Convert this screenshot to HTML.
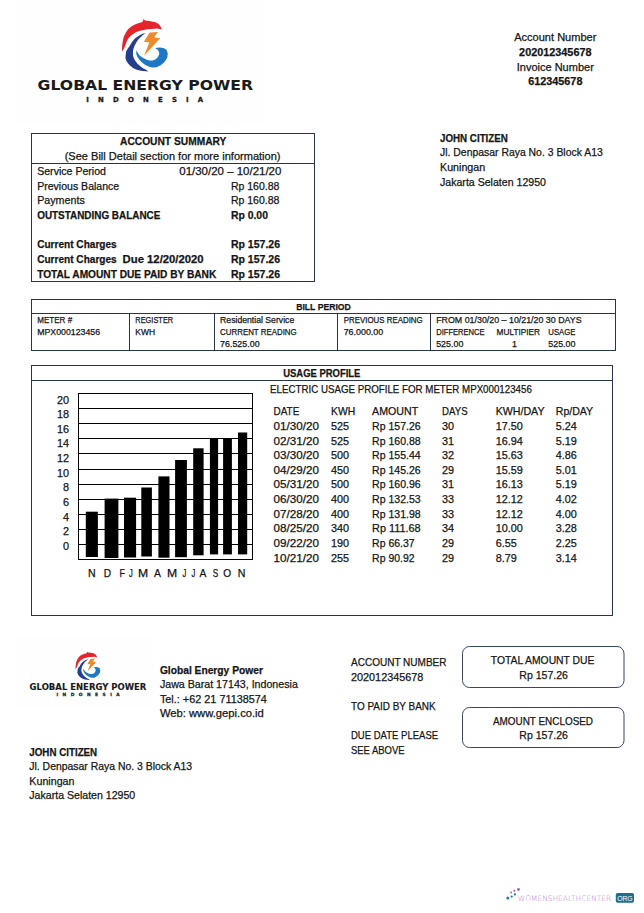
<!DOCTYPE html>
<html><head><meta charset="utf-8"><title>Global Energy Power - Bill</title>
<style>
html,body{margin:0;padding:0;background:#fff;}
svg{display:block;}
</style></head>
<body>
<svg width="644" height="913" viewBox="0 0 644 913" font-family="'Liberation Sans', Arial, sans-serif">
<rect width="644" height="913" fill="#fff"/>
<!-- logo backgrounds -->
<rect x="13" y="0" width="252" height="124" fill="#fefefe"/>
<rect x="16" y="637" width="138" height="70" fill="#fefefe"/>
<g>
<path fill="#e4262c" d="M122.2 51.5 L122 48 L122.3 44.5 L123 40 L124 36.3 L126 32.3 L128.3 28.9 L131.3 26.4 L134.9 24.5 L139 23.1 L142.6 22.1 L143.2 19.3 L145.2 20.5 L146.6 20.8 L149.6 21.1 L155.2 22.2 L158 23.6 L159.7 25.2 L161.9 28.9 L160.8 29.3 L157 28.6 L151.5 28.9 L147.5 29.2 L143.6 29.9 L140 30.7 L137 31.7 L134.5 33 L132.5 34.4 L130.3 36.3 L128.3 38.6 L126.7 41.5 L125.5 45 L124 48.5 Z"/>
<path fill="#263f8c" d="M145.5 32.9 L142 34 L139.2 35.4 L134.9 38.4 L132 42 L129.7 46 L127.6 48.8 L126.1 51.6 L125.4 57.7 L126.3 60.8 L127.9 63.3 L130.2 65.8 L133 68 L136.2 69.6 L139.6 70.5 L143 71.1 L146.1 71.3 L148.4 71.4 L146.1 69.8 L143 68.3 L140 66.1 L137.5 63.7 L135.4 61 L133.8 58.3 L133 55.4 L132.9 52.3 L133.3 49.3 L134.6 45.8 L136.4 42.2 L138.5 39.2 L140.5 37.2 L142.6 35.3 Z"/>
<path fill="#1e78c6" d="M136.3 50.2 L136.3 54 L137.6 57.2 L139.6 60 L141.8 62.3 L144.2 64.2 L146.9 65.7 L149.8 67 L153 67.6 L156.5 67.3 L160.7 65.2 L164.5 62 L167.2 57.8 L167.8 53.5 L166.5 49.8 L163.5 47.9 L159.8 47.5 L155.2 48.1 L157.5 49.5 L159.1 52 L159.2 54.3 L158 57 L155.7 59.3 L152.7 60.5 L149.8 60.6 L146.8 59.8 L144.2 58.6 L141.7 57.1 L139.6 55.4 L137.8 53 Z"/>
<path fill="#ef8a2b" d="M149.7 32.6 L158 32 L154.1 37.2 L160.2 38.3 L144 55.8 L149.4 42.6 L143.9 41.8 Z"/>
<text x="37.6" y="90.3" font-family="DejaVu Sans, sans-serif" font-weight="bold" font-size="14.9" textLength="215.5" lengthAdjust="spacingAndGlyphs" fill="#1a1a1a" stroke="#1a1a1a" stroke-width="0">GLOBAL ENERGY POWER</text>
<text x="86.2" y="102.1" font-family="DejaVu Sans, sans-serif" font-weight="bold" font-size="6.9" textLength="117" lengthAdjust="spacing" fill="#1a1a1a" stroke="#1a1a1a" stroke-width="0.3">INDONESIA</text>
</g>
<g transform="translate(9.52 641.31) scale(0.5409)">
<path fill="#e4262c" d="M122.2 51.5 L122 48 L122.3 44.5 L123 40 L124 36.3 L126 32.3 L128.3 28.9 L131.3 26.4 L134.9 24.5 L139 23.1 L142.6 22.1 L143.2 19.3 L145.2 20.5 L146.6 20.8 L149.6 21.1 L155.2 22.2 L158 23.6 L159.7 25.2 L161.9 28.9 L160.8 29.3 L157 28.6 L151.5 28.9 L147.5 29.2 L143.6 29.9 L140 30.7 L137 31.7 L134.5 33 L132.5 34.4 L130.3 36.3 L128.3 38.6 L126.7 41.5 L125.5 45 L124 48.5 Z"/>
<path fill="#263f8c" d="M145.5 32.9 L142 34 L139.2 35.4 L134.9 38.4 L132 42 L129.7 46 L127.6 48.8 L126.1 51.6 L125.4 57.7 L126.3 60.8 L127.9 63.3 L130.2 65.8 L133 68 L136.2 69.6 L139.6 70.5 L143 71.1 L146.1 71.3 L148.4 71.4 L146.1 69.8 L143 68.3 L140 66.1 L137.5 63.7 L135.4 61 L133.8 58.3 L133 55.4 L132.9 52.3 L133.3 49.3 L134.6 45.8 L136.4 42.2 L138.5 39.2 L140.5 37.2 L142.6 35.3 Z"/>
<path fill="#1e78c6" d="M136.3 50.2 L136.3 54 L137.6 57.2 L139.6 60 L141.8 62.3 L144.2 64.2 L146.9 65.7 L149.8 67 L153 67.6 L156.5 67.3 L160.7 65.2 L164.5 62 L167.2 57.8 L167.8 53.5 L166.5 49.8 L163.5 47.9 L159.8 47.5 L155.2 48.1 L157.5 49.5 L159.1 52 L159.2 54.3 L158 57 L155.7 59.3 L152.7 60.5 L149.8 60.6 L146.8 59.8 L144.2 58.6 L141.7 57.1 L139.6 55.4 L137.8 53 Z"/>
<path fill="#ef8a2b" d="M149.7 32.6 L158 32 L154.1 37.2 L160.2 38.3 L144 55.8 L149.4 42.6 L143.9 41.8 Z"/>

</g>
<text x="29.6" y="690" font-family="DejaVu Sans, sans-serif" font-weight="bold" font-size="8.3" textLength="116.8" lengthAdjust="spacingAndGlyphs" fill="#1a1a1a" stroke="#1a1a1a" stroke-width="0.12">GLOBAL ENERGY POWER</text>
<text x="56.4" y="696" font-family="DejaVu Sans, sans-serif" font-weight="bold" font-size="4.4" textLength="63.3" lengthAdjust="spacing" fill="#1a1a1a" stroke="#1a1a1a" stroke-width="0.25">INDONESIA</text>
<!-- boxes -->
<g fill="none" stroke="#26344f" stroke-width="1">
<rect x="31.5" y="133.5" width="283" height="148"/>
<line x1="31" y1="163.5" x2="315" y2="163.5"/>
<rect x="31.5" y="299.5" width="584" height="51"/>
<line x1="31" y1="313.5" x2="616" y2="313.5"/>
<line x1="129.5" y1="313" x2="129.5" y2="351"/>
<line x1="214.5" y1="313" x2="214.5" y2="351"/>
<line x1="337.5" y1="313" x2="337.5" y2="351"/>
<line x1="430.5" y1="313" x2="430.5" y2="351"/>
<rect x="31.5" y="365.5" width="581" height="250"/>
<line x1="31" y1="380.5" x2="613" y2="380.5"/>
<rect x="462.5" y="646.5" width="161.5" height="41" rx="7" stroke="#34466a"/>
<rect x="462.5" y="707.5" width="161.5" height="40" rx="7" stroke="#34466a"/>
</g>
<!-- chart -->
<g fill="none" stroke="#000" stroke-width="1">
<path d="M78.5 393V560M252.5 393V560M78 393.5H253M78 559.5H253M78 408.5H253M78 423.5H253M78 438.5H253M78 453.5H253M78 469.5H253M78 484.5H253M78 499.5H253M78 514.5H253M78 529.5H253M78 544.5H253"/>
</g>
<g fill="#000">
<rect x="85.8" y="511.7" width="12.1" height="45.3"/>
<rect x="104.6" y="498.6" width="13.8" height="59.4"/>
<rect x="124" y="497.7" width="12.1" height="59.8"/>
<rect x="141.3" y="487.5" width="10.6" height="69"/>
<rect x="158.4" y="476.4" width="11.1" height="81.3"/>
<rect x="175.1" y="460" width="11.8" height="97.2"/>
<rect x="193.2" y="448.3" width="10.4" height="107"/>
<rect x="209.9" y="438.6" width="8.2" height="115.8"/>
<rect x="223.1" y="438.6" width="8.8" height="115.8"/>
<rect x="238" y="432.5" width="9.2" height="121.9"/>
</g>
<!-- watermark -->
<g>
<circle cx="507.8" cy="898" r="1.5" fill="#1c7d96"/>
<circle cx="511.7" cy="896.6" r="1.1" fill="#1c7d96"/>
<circle cx="514.9" cy="894.4" r="1.1" fill="#1c7d96"/>
<circle cx="511.1" cy="892.4" r="0.9" fill="#a75cba"/>
<circle cx="514.3" cy="890.7" r="1.0" fill="#a75cba"/>
<circle cx="518.5" cy="889.5" r="1.4" fill="#a75cba"/>
<text x="517.8" y="901.3" font-family="DejaVu Sans, sans-serif" font-weight="200" font-size="7.6" textLength="95.5" lengthAdjust="spacingAndGlyphs" fill="#b884cc">WOMENSHEALTHCENTER.</text>
<rect x="615.8" y="892.9" width="18.2" height="9.8" rx="1.8" fill="#1f6f8b"/>
<text x="624.9" y="901.1" font-size="7.8" text-anchor="middle" textLength="15.5" lengthAdjust="spacingAndGlyphs" fill="#fff">ORG</text>
</g>

<g fill="#151515" font-size="10.71" stroke="#151515" stroke-width="0.25">
<text x="555.3" y="41" text-anchor="middle" textLength="82.17" lengthAdjust="spacingAndGlyphs">Account Number</text>
<text x="555.3" y="55.6" text-anchor="middle" font-weight="bold" textLength="72.38" lengthAdjust="spacingAndGlyphs">202012345678</text>
<text x="555.3" y="70.9" text-anchor="middle" textLength="77.04" lengthAdjust="spacingAndGlyphs">Invoice Number</text>
<text x="555.3" y="85.3" text-anchor="middle" font-weight="bold" textLength="54.28" lengthAdjust="spacingAndGlyphs">612345678</text>
<text x="173.2" y="145.2" text-anchor="middle" font-weight="bold" textLength="106.33" lengthAdjust="spacingAndGlyphs">ACCOUNT SUMMARY</text>
<text x="172.6" y="159.8" text-anchor="middle" textLength="215.8" lengthAdjust="spacingAndGlyphs">(See Bill Detail section for more information)</text>
<text x="37.2" y="175" textLength="68.76" lengthAdjust="spacingAndGlyphs">Service Period</text>
<text x="179.3" y="175" textLength="102.07" lengthAdjust="spacingAndGlyphs">01/30/20 – 10/21/20</text>
<text x="37.2" y="189.6" textLength="82.01" lengthAdjust="spacingAndGlyphs">Previous Balance</text>
<text x="230.9" y="189.6" textLength="48.57" lengthAdjust="spacingAndGlyphs">Rp 160.88</text>
<text x="37.2" y="204.3" textLength="47.55" lengthAdjust="spacingAndGlyphs">Payments</text>
<text x="230.9" y="204.3" textLength="48.57" lengthAdjust="spacingAndGlyphs">Rp 160.88</text>
<text x="37.2" y="218.9" font-weight="bold" textLength="123.13" lengthAdjust="spacingAndGlyphs">OUTSTANDING BALANCE</text>
<text x="230.9" y="218.9" font-weight="bold" textLength="37.05" lengthAdjust="spacingAndGlyphs">Rp 0.00</text>
<text x="37.2" y="248.2" font-weight="bold" textLength="79.51" lengthAdjust="spacingAndGlyphs">Current Charges</text>
<text x="230.9" y="248.2" font-weight="bold" textLength="49.11" lengthAdjust="spacingAndGlyphs">Rp 157.26</text>
<text x="37.2" y="262.9" font-weight="bold" textLength="79.51" lengthAdjust="spacingAndGlyphs">Current Charges</text>
<text x="122.6" y="262.9" font-weight="bold" textLength="81.05" lengthAdjust="spacingAndGlyphs">Due 12/20/2020</text>
<text x="230.9" y="262.9" font-weight="bold" textLength="49.11" lengthAdjust="spacingAndGlyphs">Rp 157.26</text>
<text x="37.2" y="277.5" font-weight="bold" textLength="179.06" lengthAdjust="spacingAndGlyphs">TOTAL AMOUNT DUE PAID BY BANK</text>
<text x="230.9" y="277.5" font-weight="bold" textLength="49.11" lengthAdjust="spacingAndGlyphs">Rp 157.26</text>
<text x="440" y="141.7" font-weight="bold" textLength="67.89" lengthAdjust="spacingAndGlyphs">JOHN CITIZEN</text>
<text x="440" y="156.37" textLength="162.73" lengthAdjust="spacingAndGlyphs">Jl. Denpasar Raya No. 3 Block A13</text>
<text x="440" y="171.04" textLength="45.22" lengthAdjust="spacingAndGlyphs">Kuningan</text>
<text x="440" y="185.71" textLength="105.96" lengthAdjust="spacingAndGlyphs">Jakarta Selaten 12950</text>
<text x="323.5" y="309.8" text-anchor="middle" font-weight="bold" font-size="9.72" textLength="54.6" lengthAdjust="spacingAndGlyphs">BILL PERIOD</text>
<text x="37.2" y="322.9" font-size="8.77" textLength="34.93" lengthAdjust="spacingAndGlyphs">METER #</text>
<text x="37.2" y="334.8" font-size="8.77" textLength="62.84" lengthAdjust="spacingAndGlyphs">MPX000123456</text>
<text x="135.3" y="322.9" font-size="8.77" textLength="37.91" lengthAdjust="spacingAndGlyphs">REGISTER</text>
<text x="135.3" y="334.8" font-size="8.77" textLength="19.8" lengthAdjust="spacingAndGlyphs">KWH</text>
<text x="220.1" y="322.9" font-size="8.77" textLength="74.11" lengthAdjust="spacingAndGlyphs">Residential Service</text>
<text x="220.1" y="334.8" font-size="8.77" textLength="76.57" lengthAdjust="spacingAndGlyphs">CURRENT READING</text>
<text x="220.1" y="346.6" font-size="8.77" textLength="39.47" lengthAdjust="spacingAndGlyphs">76.525.00</text>
<text x="343.7" y="322.9" font-size="8.77" textLength="78.99" lengthAdjust="spacingAndGlyphs">PREVIOUS READING</text>
<text x="343.7" y="334.8" font-size="8.77" textLength="39.47" lengthAdjust="spacingAndGlyphs">76.000.00</text>
<text x="436.2" y="322.9" font-size="8.77" textLength="145.41" lengthAdjust="spacingAndGlyphs">FROM 01/30/20 – 10/21/20 30 DAYS</text>
<text x="436.2" y="334.8" font-size="8.77" textLength="48.43" lengthAdjust="spacingAndGlyphs">DIFFERENCE</text>
<text x="496.6" y="334.8" font-size="8.77" textLength="43.4" lengthAdjust="spacingAndGlyphs">MULTIPIER</text>
<text x="548.3" y="334.8" font-size="8.77" textLength="27.26" lengthAdjust="spacingAndGlyphs">USAGE</text>
<text x="436.2" y="346.6" font-size="8.77" textLength="27.14" lengthAdjust="spacingAndGlyphs">525.00</text>
<text x="512" y="346.6" font-size="8.77" textLength="4.94" lengthAdjust="spacingAndGlyphs">1</text>
<text x="548.3" y="346.6" font-size="8.77" textLength="27.14" lengthAdjust="spacingAndGlyphs">525.00</text>
<text x="321.8" y="376.8" text-anchor="middle" font-weight="bold" textLength="77.23" lengthAdjust="spacingAndGlyphs">USAGE PROFILE</text>
<text x="270.1" y="392.8" textLength="261.74" lengthAdjust="spacingAndGlyphs">ELECTRIC USAGE PROFILE FOR METER MPX000123456</text>
<text x="273.5" y="415.3" textLength="25.82" lengthAdjust="spacingAndGlyphs">DATE</text>
<text x="331" y="415.3" textLength="24.18" lengthAdjust="spacingAndGlyphs">KWH</text>
<text x="372.1" y="415.3" textLength="46.05" lengthAdjust="spacingAndGlyphs">AMOUNT</text>
<text x="442.1" y="415.3" textLength="25.47" lengthAdjust="spacingAndGlyphs">DAYS</text>
<text x="495.7" y="415.3" textLength="48.79" lengthAdjust="spacingAndGlyphs">KWH/DAY</text>
<text x="555.8" y="415.3" textLength="37.32" lengthAdjust="spacingAndGlyphs">Rp/DAY</text>
<text x="273.5" y="429.92" textLength="45.38" lengthAdjust="spacingAndGlyphs">01/30/20</text>
<text x="331" y="429.92" textLength="18.1" lengthAdjust="spacingAndGlyphs">525</text>
<text x="372.1" y="429.92" textLength="48.57" lengthAdjust="spacingAndGlyphs">Rp 157.26</text>
<text x="442.1" y="429.92" textLength="12.06" lengthAdjust="spacingAndGlyphs">30</text>
<text x="495.7" y="429.92" textLength="27.13" lengthAdjust="spacingAndGlyphs">17.50</text>
<text x="555.8" y="429.92" textLength="21.1" lengthAdjust="spacingAndGlyphs">5.24</text>
<text x="273.5" y="444.54" textLength="45.38" lengthAdjust="spacingAndGlyphs">02/31/20</text>
<text x="331" y="444.54" textLength="18.1" lengthAdjust="spacingAndGlyphs">525</text>
<text x="372.1" y="444.54" textLength="48.57" lengthAdjust="spacingAndGlyphs">Rp 160.88</text>
<text x="442.1" y="444.54" textLength="12.06" lengthAdjust="spacingAndGlyphs">31</text>
<text x="495.7" y="444.54" textLength="27.13" lengthAdjust="spacingAndGlyphs">16.94</text>
<text x="555.8" y="444.54" textLength="21.1" lengthAdjust="spacingAndGlyphs">5.19</text>
<text x="273.5" y="459.16" textLength="45.38" lengthAdjust="spacingAndGlyphs">03/30/20</text>
<text x="331" y="459.16" textLength="18.1" lengthAdjust="spacingAndGlyphs">500</text>
<text x="372.1" y="459.16" textLength="48.57" lengthAdjust="spacingAndGlyphs">Rp 155.44</text>
<text x="442.1" y="459.16" textLength="12.06" lengthAdjust="spacingAndGlyphs">32</text>
<text x="495.7" y="459.16" textLength="27.13" lengthAdjust="spacingAndGlyphs">15.63</text>
<text x="555.8" y="459.16" textLength="21.1" lengthAdjust="spacingAndGlyphs">4.86</text>
<text x="273.5" y="473.78" textLength="45.38" lengthAdjust="spacingAndGlyphs">04/29/20</text>
<text x="331" y="473.78" textLength="18.1" lengthAdjust="spacingAndGlyphs">450</text>
<text x="372.1" y="473.78" textLength="48.57" lengthAdjust="spacingAndGlyphs">Rp 145.26</text>
<text x="442.1" y="473.78" textLength="12.06" lengthAdjust="spacingAndGlyphs">29</text>
<text x="495.7" y="473.78" textLength="27.13" lengthAdjust="spacingAndGlyphs">15.59</text>
<text x="555.8" y="473.78" textLength="21.1" lengthAdjust="spacingAndGlyphs">5.01</text>
<text x="273.5" y="488.4" textLength="45.38" lengthAdjust="spacingAndGlyphs">05/31/20</text>
<text x="331" y="488.4" textLength="18.1" lengthAdjust="spacingAndGlyphs">500</text>
<text x="372.1" y="488.4" textLength="48.57" lengthAdjust="spacingAndGlyphs">Rp 160.96</text>
<text x="442.1" y="488.4" textLength="12.06" lengthAdjust="spacingAndGlyphs">31</text>
<text x="495.7" y="488.4" textLength="27.13" lengthAdjust="spacingAndGlyphs">16.13</text>
<text x="555.8" y="488.4" textLength="21.1" lengthAdjust="spacingAndGlyphs">5.19</text>
<text x="273.5" y="503.02" textLength="45.38" lengthAdjust="spacingAndGlyphs">06/30/20</text>
<text x="331" y="503.02" textLength="18.1" lengthAdjust="spacingAndGlyphs">400</text>
<text x="372.1" y="503.02" textLength="48.57" lengthAdjust="spacingAndGlyphs">Rp 132.53</text>
<text x="442.1" y="503.02" textLength="12.06" lengthAdjust="spacingAndGlyphs">33</text>
<text x="495.7" y="503.02" textLength="27.13" lengthAdjust="spacingAndGlyphs">12.12</text>
<text x="555.8" y="503.02" textLength="21.1" lengthAdjust="spacingAndGlyphs">4.02</text>
<text x="273.5" y="517.64" textLength="45.38" lengthAdjust="spacingAndGlyphs">07/28/20</text>
<text x="331" y="517.64" textLength="18.1" lengthAdjust="spacingAndGlyphs">400</text>
<text x="372.1" y="517.64" textLength="48.57" lengthAdjust="spacingAndGlyphs">Rp 131.98</text>
<text x="442.1" y="517.64" textLength="12.06" lengthAdjust="spacingAndGlyphs">33</text>
<text x="495.7" y="517.64" textLength="27.13" lengthAdjust="spacingAndGlyphs">12.12</text>
<text x="555.8" y="517.64" textLength="21.1" lengthAdjust="spacingAndGlyphs">4.00</text>
<text x="273.5" y="532.26" textLength="45.38" lengthAdjust="spacingAndGlyphs">08/25/20</text>
<text x="331" y="532.26" textLength="18.1" lengthAdjust="spacingAndGlyphs">340</text>
<text x="372.1" y="532.26" textLength="48.57" lengthAdjust="spacingAndGlyphs">Rp 111.68</text>
<text x="442.1" y="532.26" textLength="12.06" lengthAdjust="spacingAndGlyphs">34</text>
<text x="495.7" y="532.26" textLength="27.13" lengthAdjust="spacingAndGlyphs">10.00</text>
<text x="555.8" y="532.26" textLength="21.1" lengthAdjust="spacingAndGlyphs">3.28</text>
<text x="273.5" y="546.88" textLength="45.38" lengthAdjust="spacingAndGlyphs">09/22/20</text>
<text x="331" y="546.88" textLength="18.1" lengthAdjust="spacingAndGlyphs">190</text>
<text x="372.1" y="546.88" textLength="42.53" lengthAdjust="spacingAndGlyphs">Rp 66.37</text>
<text x="442.1" y="546.88" textLength="12.06" lengthAdjust="spacingAndGlyphs">29</text>
<text x="495.7" y="546.88" textLength="21.1" lengthAdjust="spacingAndGlyphs">6.55</text>
<text x="555.8" y="546.88" textLength="21.1" lengthAdjust="spacingAndGlyphs">2.25</text>
<text x="273.5" y="561.5" textLength="45.38" lengthAdjust="spacingAndGlyphs">10/21/20</text>
<text x="331" y="561.5" textLength="18.1" lengthAdjust="spacingAndGlyphs">255</text>
<text x="372.1" y="561.5" textLength="42.53" lengthAdjust="spacingAndGlyphs">Rp 90.92</text>
<text x="442.1" y="561.5" textLength="12.06" lengthAdjust="spacingAndGlyphs">29</text>
<text x="495.7" y="561.5" textLength="21.1" lengthAdjust="spacingAndGlyphs">8.79</text>
<text x="555.8" y="561.5" textLength="21.1" lengthAdjust="spacingAndGlyphs">3.14</text>
<text x="69.1" y="403.6" text-anchor="end" textLength="12.06" lengthAdjust="spacingAndGlyphs">20</text>
<text x="69.1" y="418.23" text-anchor="end" textLength="12.06" lengthAdjust="spacingAndGlyphs">18</text>
<text x="69.1" y="432.86" text-anchor="end" textLength="12.06" lengthAdjust="spacingAndGlyphs">16</text>
<text x="69.1" y="447.49" text-anchor="end" textLength="12.06" lengthAdjust="spacingAndGlyphs">14</text>
<text x="69.1" y="462.12" text-anchor="end" textLength="12.06" lengthAdjust="spacingAndGlyphs">12</text>
<text x="69.1" y="476.75" text-anchor="end" textLength="12.06" lengthAdjust="spacingAndGlyphs">10</text>
<text x="69.1" y="491.38" text-anchor="end" textLength="6.03" lengthAdjust="spacingAndGlyphs">8</text>
<text x="69.1" y="506.01" text-anchor="end" textLength="6.03" lengthAdjust="spacingAndGlyphs">6</text>
<text x="69.1" y="520.64" text-anchor="end" textLength="6.03" lengthAdjust="spacingAndGlyphs">4</text>
<text x="69.1" y="535.27" text-anchor="end" textLength="6.03" lengthAdjust="spacingAndGlyphs">2</text>
<text x="69.1" y="549.9" text-anchor="end" textLength="6.03" lengthAdjust="spacingAndGlyphs">0</text>
<text x="88.1" y="576.6" textLength="7.68" lengthAdjust="spacingAndGlyphs">N</text>
<text x="103.7" y="576.6" textLength="7.32" lengthAdjust="spacingAndGlyphs">D</text>
<text x="119.5" y="576.6" textLength="5.47" lengthAdjust="spacingAndGlyphs">F</text>
<text x="129" y="576.6" textLength="3.79" lengthAdjust="spacingAndGlyphs">J</text>
<text x="138" y="576.6" textLength="10.17" lengthAdjust="spacingAndGlyphs">M</text>
<text x="154.1" y="576.6" textLength="6.89" lengthAdjust="spacingAndGlyphs">A</text>
<text x="167" y="576.6" textLength="10.17" lengthAdjust="spacingAndGlyphs">M</text>
<text x="182.4" y="576.6" textLength="3.79" lengthAdjust="spacingAndGlyphs">J</text>
<text x="191.6" y="576.6" textLength="3.79" lengthAdjust="spacingAndGlyphs">J</text>
<text x="199.5" y="576.6" textLength="6.89" lengthAdjust="spacingAndGlyphs">A</text>
<text x="212.7" y="576.6" textLength="5.47" lengthAdjust="spacingAndGlyphs">S</text>
<text x="223.3" y="576.6" textLength="7.88" lengthAdjust="spacingAndGlyphs">O</text>
<text x="237.8" y="576.6" textLength="7.68" lengthAdjust="spacingAndGlyphs">N</text>
<text x="159.9" y="674.4" font-weight="bold" textLength="102.98" lengthAdjust="spacingAndGlyphs">Global Energy Power</text>
<text x="159.9" y="688.48" textLength="137.94" lengthAdjust="spacingAndGlyphs">Jawa Barat 17143, Indonesia</text>
<text x="159.9" y="702.56" textLength="107.01" lengthAdjust="spacingAndGlyphs">Tel.: +62 21 71138574</text>
<text x="159.9" y="716.64" textLength="103.96" lengthAdjust="spacingAndGlyphs">Web: www.gepi.co.id</text>
<text x="351" y="665.8" textLength="95.5" lengthAdjust="spacingAndGlyphs">ACCOUNT NUMBER</text>
<text x="351" y="680.5" textLength="72.38" lengthAdjust="spacingAndGlyphs">202012345678</text>
<text x="351" y="709.7" textLength="84.6" lengthAdjust="spacingAndGlyphs">TO PAID BY BANK</text>
<text x="351" y="739.2" textLength="87.09" lengthAdjust="spacingAndGlyphs">DUE DATE PLEASE</text>
<text x="351" y="753.7" textLength="53.58" lengthAdjust="spacingAndGlyphs">SEE ABOVE</text>
<text x="542.6" y="663.8" text-anchor="middle" textLength="103.57" lengthAdjust="spacingAndGlyphs">TOTAL AMOUNT DUE</text>
<text x="543.6" y="678.6" text-anchor="middle" textLength="48.57" lengthAdjust="spacingAndGlyphs">Rp 157.26</text>
<text x="543" y="724.7" text-anchor="middle" textLength="100.06" lengthAdjust="spacingAndGlyphs">AMOUNT ENCLOSED</text>
<text x="543.6" y="738.8" text-anchor="middle" textLength="48.57" lengthAdjust="spacingAndGlyphs">Rp 157.26</text>
<text x="29.3" y="756" font-weight="bold" textLength="67.89" lengthAdjust="spacingAndGlyphs">JOHN CITIZEN</text>
<text x="29.3" y="770.3" textLength="162.73" lengthAdjust="spacingAndGlyphs">Jl. Denpasar Raya No. 3 Block A13</text>
<text x="29.3" y="784.6" textLength="45.22" lengthAdjust="spacingAndGlyphs">Kuningan</text>
<text x="29.3" y="798.9" textLength="105.96" lengthAdjust="spacingAndGlyphs">Jakarta Selaten 12950</text>
</g>
</svg>
</body></html>
